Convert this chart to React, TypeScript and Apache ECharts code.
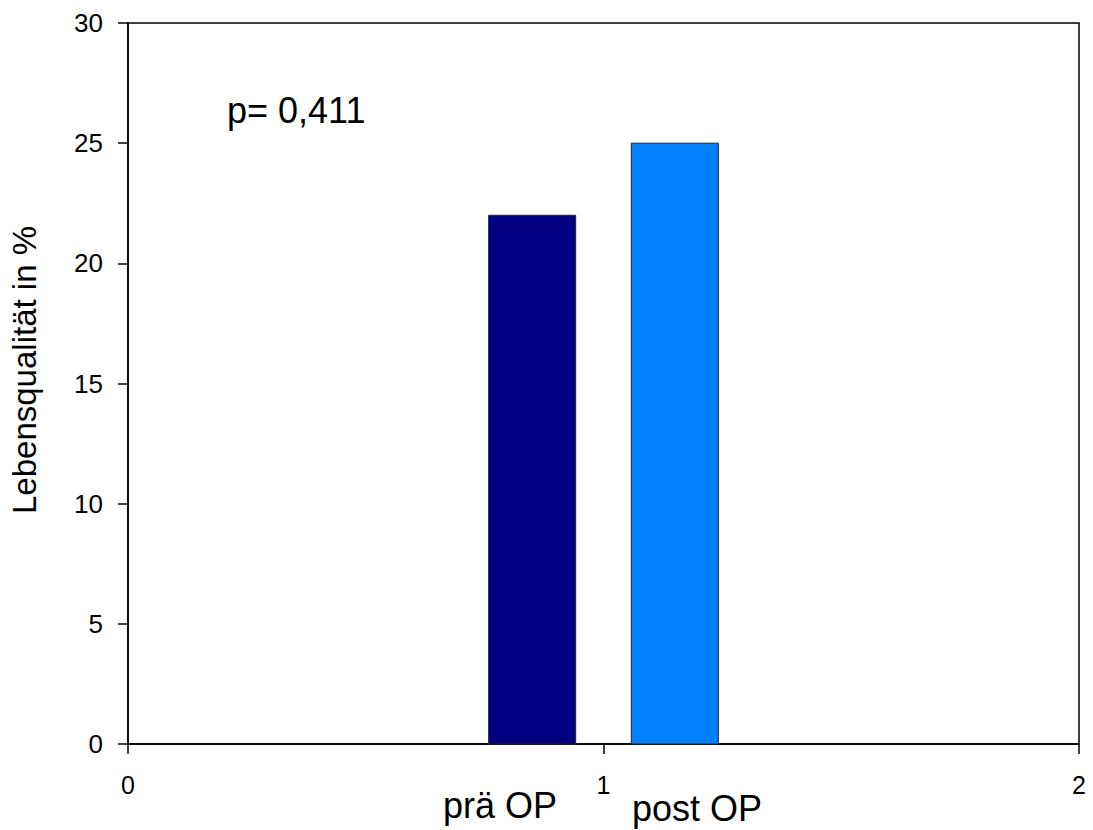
import React, { useEffect, useRef } from "react";
import * as echarts from "echarts";

const categories = ["prä OP", "post OP"];
const values = [22, 25];
const positions = [0.85, 1.15];
const barColors = ["#000080", "#0080FF"];
const yTicks = [0, 5, 10, 15, 20, 25, 30];
const xTicks = [0, 1, 2];
const pText = "p= 0,411";
const yTitle = "Lebensqualität in %";

const FONT = "'Liberation Sans', Arial, Helvetica, sans-serif";

export default function App() {
  const ref = useRef<HTMLDivElement>(null);
  useEffect(() => {
    document.body.style.margin = "0";
    const chart = echarts.init(ref.current!, null, { renderer: "svg" });
    const halfW = 0.0915;
    chart.setOption({
      animation: false,
      backgroundColor: "#ffffff",
      textStyle: { fontFamily: FONT },
      grid: {
        left: 128,
        right: 14,
        top: 23,
        bottom: 86,
        show: true,
        borderColor: "#000",
        borderWidth: 1.5,
        backgroundColor: "transparent",
      },
      xAxis: {
        type: "value",
        min: xTicks[0],
        max: xTicks[xTicks.length - 1],
        interval: 1,
        axisLine: { show: true, lineStyle: { color: "#000", width: 1.5 } },
        axisTick: { show: true, inside: false, length: 10, lineStyle: { color: "#000", width: 1.5 } },
        axisLabel: { color: "#000", fontSize: 25, fontFamily: FONT, margin: 28 },
        splitLine: { show: false },
      },
      yAxis: {
        type: "value",
        min: yTicks[0],
        max: yTicks[yTicks.length - 1],
        interval: 5,
        axisLine: { show: true, lineStyle: { color: "#000", width: 1.5 } },
        axisTick: { show: true, inside: false, length: 10, lineStyle: { color: "#000", width: 1.5 } },
        axisLabel: { color: "#000", fontSize: 26, fontFamily: FONT, margin: 25 },
        splitLine: { show: false },
      },
      series: [
        {
          type: "custom",
          data: values.map((v, i) => [positions[i], v, i]),
          renderItem: (params: any, api: any) => {
            const x = api.value(0);
            const v = api.value(1);
            const idx = api.value(2);
            const p1 = api.coord([x - halfW, v]);
            const p2 = api.coord([x + halfW, 0]);
            return {
              type: "rect",
              shape: { x: p1[0], y: p1[1], width: p2[0] - p1[0], height: p2[1] - p1[1] },
              style: { fill: barColors[idx], stroke: "#222", lineWidth: 1 },
            };
          },
        },
      ],
      graphic: [
        {
          type: "text",
          left: 227,
          top: 92,
          style: { text: pText, fontSize: 36, fontFamily: FONT, fill: "#000" },
        },
        {
          type: "text",
          x: 500,
          y: 805,
          style: {
            text: categories[0],
            fontSize: 36,
            fontFamily: FONT,
            fill: "#000",
            align: "center",
            verticalAlign: "middle",
          },
        },
        {
          type: "text",
          x: 697,
          y: 808,
          style: {
            text: categories[1],
            fontSize: 36,
            fontFamily: FONT,
            fill: "#000",
            align: "center",
            verticalAlign: "middle",
          },
        },
        {
          type: "text",
          x: 24,
          y: 370,
          rotation: Math.PI / 2,
          style: {
            text: yTitle,
            fontSize: 33,
            fontFamily: FONT,
            fill: "#000",
            align: "center",
            verticalAlign: "middle",
          },
        },
      ],
    });
    return () => chart.dispose();
  }, []);
  return <div ref={ref} style={{ width: 1093, height: 830 }} />;
}
